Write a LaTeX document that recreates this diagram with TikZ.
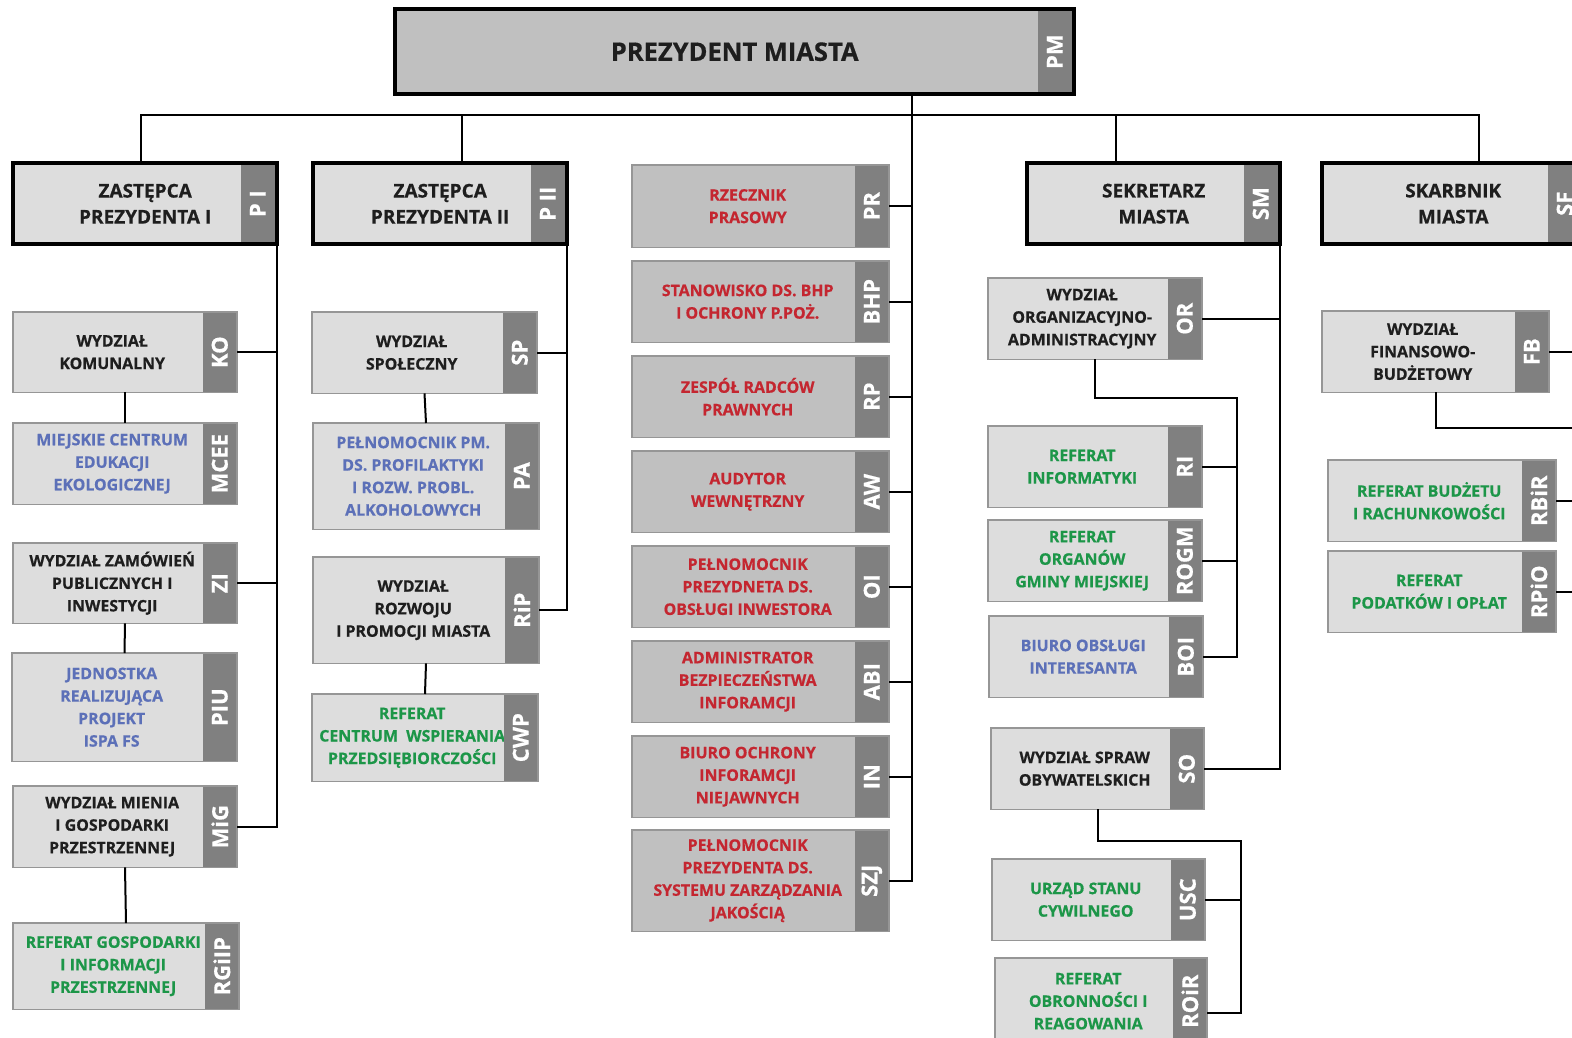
\documentclass[tikz,border=0pt]{standalone}
\usepackage{fontspec}
\setmainfont{Open Sans}[BoldFeatures={FakeBold=0.6}]
\usepackage{tikz}
\usetikzlibrary{
  positioning,
  calc
}
\definecolor{TagGray}{RGB}{128,128,128}
\definecolor{BoxLight}{RGB}{221,221,221}
\definecolor{BoxMid}{RGB}{192,192,192}
\definecolor{EdgeGray}{RGB}{150,150,150}
\definecolor{TextDark}{RGB}{30,30,30}
\definecolor{TextRed}{RGB}{196,38,48}
\definecolor{TextBlue}{RGB}{92,112,184}
\definecolor{TextGreen}{RGB}{28,150,72}
\tikzset{
  unit/.style={anchor=north west,inner sep=0pt,align=center,font=\bfseries\fontsize{15.9}{22.5}\selectfont},
  naczelny/.style={unit,fill=BoxLight,text=TextDark,font=\bfseries\fontsize{19}{26}\selectfont},
  wydzial/.style={unit,fill=BoxLight,text=TextDark},
  stanowisko/.style={unit,fill=BoxMid,text=TextRed},
  jednostka/.style={unit,fill=BoxLight,text=TextBlue},
  referat/.style={unit,fill=BoxLight,text=TextGreen},
  tagbox/.style={anchor=north east,fill=TagGray,text=white,minimum width=34,inner sep=0pt,font=\bfseries\fontsize{22}{22}\selectfont},
  thinframe/.style={draw=EdgeGray,line width=1.3pt},
  headframe/.style={draw=black,line width=4pt},
  link/.style={draw=black,line width=2pt}
}

\begin{document}
\begin{tikzpicture}[x=1pt,y=-1pt]
\useasboundingbox (0,0) rectangle (1572,1037);
\clip (0,0) rectangle (1572,1037);

% prezydent
\node[naczelny,fill=BoxMid,minimum width=679,minimum height=85,font=\bfseries\fontsize{25.5}{30}\selectfont] (pm) at (395,9) {PREZYDENT MIASTA};
\node[tagbox,minimum height=81] (pm-t) at (1072,11) {\rotatebox{90}{PM}};
\draw[headframe] (pm.south west) rectangle (pm.north east);

% zastepcy, sekretarz, skarbnik
\foreach \n/\x/\y/\w/\tg/\txt in {
  pi/13/163/264/{P I}/{ZASTĘPCA\\PREZYDENTA I},
  pii/313/163/254/{P II}/{ZASTĘPCA\\PREZYDENTA II},
  sm/1027/163/253/SM/{SEKRETARZ\\MIASTA},
  sf/1322/163/262/SF/{SKARBNIK\\MIASTA}}{
  \node[naczelny,minimum width=\w,minimum height=81] (\n) at (\x,\y) {\txt};
  \node[tagbox,minimum height=77] (\n-t) at ({\x+\w-2},{\y+2}) {\rotatebox{90}{\tg}};
  \draw[headframe] (\n.south west) rectangle (\n.north east);
}

% wydzialy, referaty, stanowiska
\foreach \n/\s/\x/\y/\w/\h/\tg/\txt in {
  ko/wydzial/13/312/224/80/KO/{WYDZIAŁ\\KOMUNALNY},
  mcee/jednostka/13/423/224/81/MCEE/{MIEJSKIE CENTRUM\\EDUKACJI\\EKOLOGICZNEJ},
  zi/wydzial/13/543/224/80/ZI/{WYDZIAŁ ZAMÓWIEŃ\\PUBLICZNYCH I\\INWESTYCJI},
  piu/jednostka/12/653/225/108/PIU/{JEDNOSTKA\\REALIZUJĄCA\\PROJEKT\\ISPA FS},
  mig/wydzial/13/786/224/81/MiG/{WYDZIAŁ MIENIA\\I GOSPODARKI\\PRZESTRZENNEJ},
  rgiip/referat/13/923/226/86/RGiIP/{REFERAT GOSPODARKI\\I INFORMACJI\\PRZESTRZENNEJ},
  sp/wydzial/312/312/225/81/SP/{WYDZIAŁ\\SPOŁECZNY},
  pa/jednostka/313/423/226/106/PA/{PEŁNOMOCNIK PM.\\DS. PROFILAKTYKI\\I ROZW. PROBL.\\ALKOHOLOWYCH},
  rip/wydzial/313/557/226/106/RiP/{WYDZIAŁ\\ROZWOJU\\I PROMOCJI MIASTA},
  cwp/referat/312/694/226/87/CWP/{REFERAT\\CENTRUM\ \ WSPIERANIA\\PRZEDSIĘBIORCZOŚCI},
  pr/stanowisko/632/165/257/82/PR/{RZECZNIK\\PRASOWY},
  bhp/stanowisko/632/261/257/81/BHP/{STANOWISKO DS. BHP\\I OCHRONY P.POŻ.},
  rp/stanowisko/632/356/257/81/RP/{ZESPÓŁ RADCÓW\\PRAWNYCH},
  aw/stanowisko/632/451/257/81/AW/{AUDYTOR\\WEWNĘTRZNY},
  oi/stanowisko/632/546/257/81/OI/{PEŁNOMOCNIK\\PREZYDNETA DS.\\OBSŁUGI INWESTORA},
  abi/stanowisko/632/641/257/81/ABI/{ADMINISTRATOR\\BEZPIECZEŃSTWA\\INFORAMCJI},
  boin/stanowisko/632/736/257/81/IN/{BIURO OCHRONY\\INFORAMCJI\\NIEJAWNYCH},
  szj/stanowisko/632/830/257/101/SZJ/{PEŁNOMOCNIK\\PREZYDENTA DS.\\SYSTEMU ZARZĄDZANIA\\JAKOŚCIĄ},
  or/wydzial/988/278/214/81/OR/{WYDZIAŁ\\ORGANIZACYJNO-\\ADMINISTRACYJNY},
  ri/referat/988/426/214/81/RI/{REFERAT\\INFORMATYKI},
  rogm/referat/988/520/214/81/ROGM/{REFERAT\\ORGANÓW\\GMINY MIEJSKIEJ},
  boi/jednostka/989/616/214/81/BOI/{BIURO OBSŁUGI\\INTERESANTA},
  so/wydzial/991/728/213/81/SO/{WYDZIAŁ SPRAW\\OBYWATELSKICH},
  usc/referat/992/859/213/81/USC/{URZĄD STANU\\CYWILNEGO},
  roir/referat/995/958/212/86/ROiR/{REFERAT\\OBRONNOŚCI I\\REAGOWANIA},
  fb/wydzial/1322/311/227/81/FB/{WYDZIAŁ\\FINANSOWO-\\BUDŻETOWY},
  rbir/referat/1328/460/228/81/RBiR/{REFERAT BUDŻETU\\I RACHUNKOWOŚCI},
  rpio/referat/1328/551/228/81/RPiO/{REFERAT\\PODATKÓW I OPŁAT}}{
  \node[\s,minimum width={\w-26},minimum height=\h] (\n) at (\x,\y) {\txt};
  \node[tagbox,minimum height=\h] (\n-t) at ({\x+\w},\y) {\rotatebox{90}{\tg}};
  \draw[thinframe] (\n.south west) rectangle (\n-t.north east);
}

% polaczenia
\coordinate (bus) at (912,115);
\draw[link] (pm.south -| bus) -- (bus);
\draw[link] ([xshift=-4]pi.north) |- (bus) -| ([xshift=26]sf.north);
\draw[link] ([xshift=22]pii.north) -- ([xshift=22]pii.north |- bus);
\draw[link] ([xshift=-38]sm.north) -- ([xshift=-38]sm.north |- bus);
\draw[link] (bus) |- (szj-t.east);
\foreach \n in {pr,bhp,rp,aw,oi,abi,boin}
  \draw[link] (\n-t.east) -- (\n-t.east -| bus);

% zastepca I
\draw[link] (pi.south east) |- (mig-t.east);
\foreach \n in {ko,zi}
  \draw[link] (\n-t.east) -- (\n-t.east -| pi.east);
\foreach \a/\b in {ko/mcee,zi/piu,mig/rgiip,sp/pa,rip/cwp}
  \draw[link] ($(\a.south west)!.5!(\a-t.south east)$) -- ($(\b.north west)!.5!(\b-t.north east)$);

% zastepca II
\draw[link] (pii.south east) |- (rip-t.east);
\draw[link] (sp-t.east) -- (sp-t.east -| pii.east);

% sekretarz
\draw[link] (sm.south east) |- (so-t.east);
\draw[link] (or-t.east) -- (or-t.east -| sm.east);
\coordinate (or-rail) at (1237,398);
\draw[link] ($(or.south west)!.5!(or-t.south east)$) |- (or-rail) |- (boi-t.east);
\foreach \n in {ri,rogm}
  \draw[link] (\n-t.east) -- (\n-t.east -| or-rail);
\coordinate (so-rail) at (1241,841);
\draw[link] ($(so.south west)!.5!(so-t.south east)$) |- (so-rail) |- ([yshift=-12]roir-t.east);
\draw[link] (usc-t.east) -- (usc-t.east -| so-rail);

% skarbnik
\draw[link] (sf.south east) |- (rpio-t.east);
\foreach \n in {fb,rbir}
  \draw[link] (\n-t.east) -- (\n-t.east -| sf.east);
\coordinate (fb-rail) at (1600,428);
\draw[link] ($(fb.south west)!.5!(fb-t.south east)$) |- (fb-rail);
\end{tikzpicture}
\end{document}
